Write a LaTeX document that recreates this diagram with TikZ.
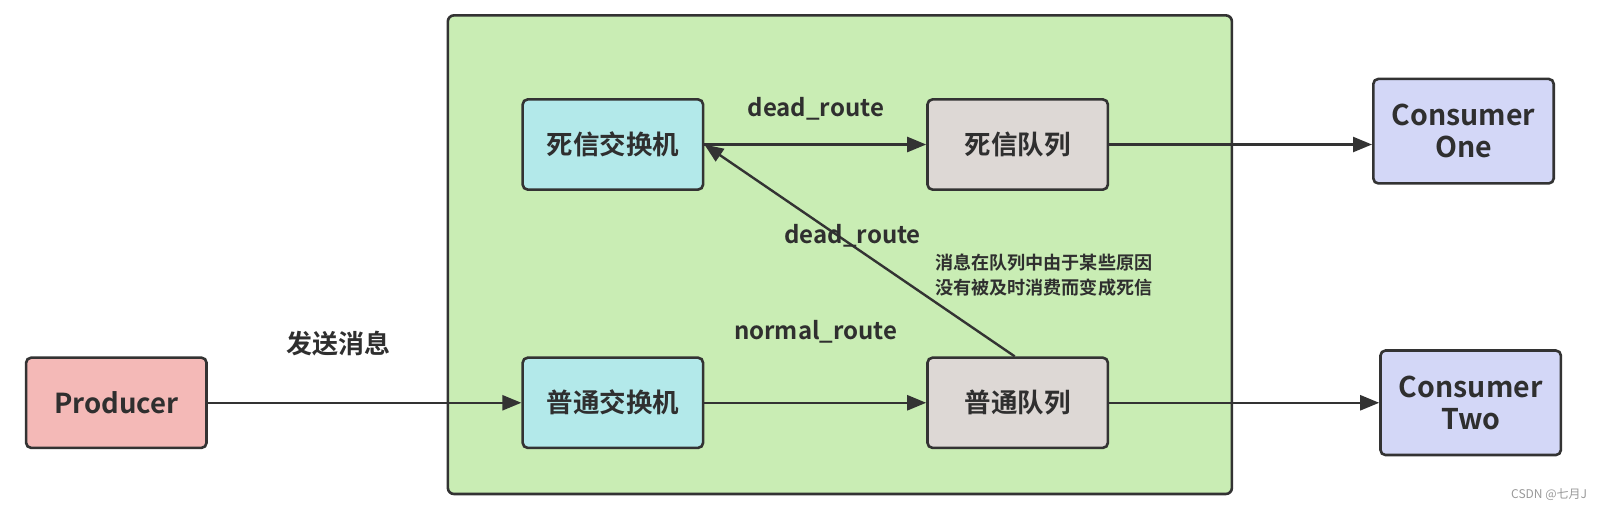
\documentclass[tikz,border=0pt]{standalone}
\usepackage{fontspec}
\setmainfont{Noto Sans CJK SC}[BoldFont={Noto Sans CJK SC Bold}]
\usetikzlibrary{arrows.meta}
\definecolor{edge}{HTML}{333333}
\definecolor{zonefill}{HTML}{C9EDB4}
\definecolor{prodfill}{HTML}{F4B9B7}
\definecolor{exfill}{HTML}{B3E9EA}
\definecolor{qfill}{HTML}{DDD8D5}
\definecolor{consfill}{HTML}{D3D7F7}
\definecolor{txt}{HTML}{2F2F2F}
\tikzset{
  box/.style={draw=edge, line width=2.6pt, rounded corners=5pt, minimum width=180.4pt, minimum height=90.2pt, align=center, text=txt, font=\fontsize{26.5}{31}\selectfont\bfseries},
  latinbox/.style={box, font=\fontsize{27.5}{32}\selectfont\bfseries},
  consbox/.style={latinbox, font=\fontsize{28.5}{32}\selectfont\bfseries, minimum height=104.5pt, fill=consfill},
  zonebox/.style={draw=edge, line width=2.6pt, rounded corners=6pt, fill=zonefill, minimum width=784pt, minimum height=478.6pt},
  conn/.style={draw=edge, line width=2.4pt, -{Triangle[length=19pt,width=15pt]}},
  lbl/.style={text=txt, font=\fontsize{24}{28}\selectfont\bfseries},
  note/.style={text=txt, font=\fontsize{18.1}{25.6}\selectfont\bfseries, align=left},
}
\begin{document}
\begin{tikzpicture}[x=1.02487pt, y=-1.02487pt]
\useasboundingbox (0,0) rectangle (1568,498);
\node[zonebox] (zone) at (819.5,248.5) {};
\node[latinbox, fill=prodfill] (prod) at (113.5,393) {Producer};
\node[box, fill=exfill] (nex) at (598,393) {普通交换机};
\node[box, fill=qfill] (nq) at (993,393) {普通队列};
\node[box, fill=exfill] (dex) at (598,141) {死信交换机};
\node[box, fill=qfill] (dq) at (993,141) {死信队列};
\node[consbox] (c1) at (1428,128) {Consumer\\One};
\node[consbox] (c2) at (1435,393) {Consumer\\Two};

\draw[conn] (prod.east) -- (nex.west);
\draw[conn] (nex.east) -- (nq.west);
\draw[conn] (dex.east) -- (dq.west);
\draw[conn] (dq.east) -- (dq.east -| c1.west);
\draw[conn] (nq.east) -- (c2.west);
\draw[conn] ([xshift=-3pt]nq.north) -- (dex.east);

\node[lbl, font=\fontsize{26}{30}\selectfont\bfseries] (l1) at (330,335) {发送消息};
\node[lbl] (l2) at (796,106) {dead\_route};
\node[lbl] (l3) at (832,230) {dead\_route};
\node[lbl] (l4) at (796,324) {normal\_route};
\node[note, anchor=west] (l5) at (909,268.5) {消息在队列中由于某些原因\\没有被及时消费而变成死信};
\node[text=black!40, font=\fontsize{12}{14}\selectfont, anchor=east] (wm) at (1552,483) {CSDN @七月J};
\end{tikzpicture}
\end{document}
